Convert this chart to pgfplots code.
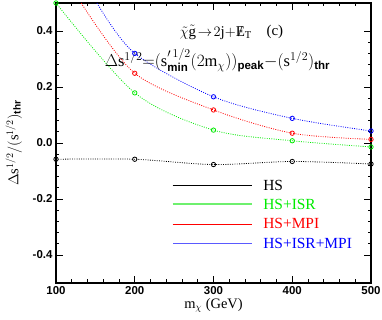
\documentclass[border=0pt]{standalone}
\usepackage{fontspec}
\setmainfont{Liberation Serif}
\setsansfont{Liberation Sans}
\usepackage{amsmath}
\usepackage{pgfplots}
\pgfplotsset{compat=1.18}
\definecolor{cHS}{RGB}{0,0,0}
\definecolor{cISR}{RGB}{0,235,0}
\definecolor{cMPI}{RGB}{255,0,0}
\definecolor{cALL}{RGB}{0,0,255}
\definecolor{legISR}{RGB}{110,240,110}
\definecolor{legALL}{RGB}{90,90,255}
\newcommand{\sub}[1]{\text{\sffamily\bfseries #1}}
\newcommand{\met}{\text{\ooalign{E\cr\hfil/\hfil}}}
\begin{document}
\begin{tikzpicture}
\begin{axis}[
    scale only axis,
    width=315bp, height=280bp,
    xmin=100, xmax=500, ymin=-0.5, ymax=0.5,
    xtick={100,200,300,400,500},
    ytick={-0.4,-0.2,0,0.2,0.4},
    minor x tick num=4, minor y tick num=4,
    tick align=inside,
    major tick length=7bp, minor tick length=3.5bp,
    tick style={black, line width=0.9pt},
    axis line style={line width=1.1pt},
    /pgf/number format/assume math mode=true,
    yticklabel style={/pgf/number format/fixed, /pgf/number format/fixed zerofill,
        /pgf/number format/precision=1, font=\sffamily\bfseries\fontsize{11.5}{13}\selectfont},
    xticklabel style={font=\sffamily\bfseries\fontsize{11.5}{13}\selectfont},
    scaled y ticks=false,
    xlabel={m$_{\chi}$ (GeV)},
    ylabel={$\Delta\mathrm{s}^{1/2}/(\mathrm{s}^{1/2})_{\sub{thr}}$},
    label style={font=\fontsize{14.5}{16}\selectfont},
    xlabel style={yshift=3bp},
    ylabel style={yshift=4bp},
    clip=true,
    every axis plot/.append style={line width=0.8pt},
]
% HS
\addplot[cHS, dash pattern=on 0.9pt off 1.4pt, smooth] coordinates {
 (100,-0.058) (200,-0.058) (300,-0.077) (400,-0.066) (500,-0.075)};
\addplot[cHS, only marks, mark=o, mark size=2.2pt] coordinates {
 (100,-0.058) (200,-0.058) (300,-0.077) (400,-0.066) (500,-0.075)};
% HS+ISR
\addplot[cISR, dash pattern=on 0.9pt off 1.4pt, smooth] coordinates {
 (100,0.50) (200,0.179) (300,0.046) (400,0.008) (500,-0.014)};
\addplot[cISR, only marks, mark=o, mark size=2.2pt] coordinates {
 (100,0.50) (200,0.179) (300,0.046) (400,0.008) (500,-0.014)};
% HS+MPI
\addplot[cMPI, dash pattern=on 0.9pt off 1.4pt, smooth] coordinates {
 (132,0.50) (200,0.249) (300,0.118) (400,0.035) (500,0.013)};
\addplot[cMPI, only marks, mark=o, mark size=2.2pt] coordinates {
 (200,0.249) (300,0.118) (400,0.035) (500,0.013)};
% HS+ISR+MPI
\addplot[cALL, dash pattern=on 0.9pt off 1.4pt, smooth] coordinates {
 (152,0.50) (200,0.320) (300,0.165) (400,0.088) (500,0.043)};
\addplot[cALL, only marks, mark=o, mark size=2.2pt] coordinates {
 (200,0.320) (300,0.165) (400,0.088) (500,0.043)};

% legend samples
\addplot[cHS, no marks] coordinates {(248,-0.150) (349,-0.150)};
\addplot[legISR, no marks, line width=1.4pt] coordinates {(248,-0.218) (349,-0.218)};
\addplot[cMPI, no marks] coordinates {(248,-0.289) (349,-0.289)};
\fill[legALL] (axis cs:248,-0.3555) rectangle (axis cs:349,-0.3605);
\node[text=cHS, anchor=west, inner sep=0pt, font=\fontsize{15.5}{17}\selectfont] at (axis cs:363,-0.150) {HS};
\node[text=cISR, anchor=west, inner sep=0pt, font=\fontsize{15.5}{17}\selectfont] at (axis cs:363,-0.218) {HS+ISR};
\node[text=cMPI, anchor=west, inner sep=0pt, font=\fontsize{15.5}{17}\selectfont] at (axis cs:363,-0.289) {HS+MPI};
\node[text=cALL, anchor=west, inner sep=0pt, font=\fontsize{15.5}{17}\selectfont] at (axis cs:363,-0.360) {HS+ISR+MPI};

% annotations
\node[font=\fontsize{15}{17}\selectfont, inner sep=0pt] at (axis cs:303,0.396)
  {$\tilde{\chi}\tilde{\mathrm{g}}\!\to\!2\mathrm{j}{+}\met_{\mathrm{T}}$};
\node[font=\fontsize{15}{17}\selectfont, inner sep=0pt] at (axis cs:378,0.396) {(c)};
\node[font=\fontsize{16.5}{18}\selectfont, inner sep=0pt] at (axis cs:305,0.296)
  {$\Delta\mathrm{s}^{1/2}{=}(\mathrm{s}'^{\,1/2}_{\sub{min}}(2\mathrm{m}_{\chi}))_{\sub{peak}}{-}(\mathrm{s}^{1/2})_{\sub{thr}}$};
\end{axis}
\pgfresetboundingbox
\path ([shift={(-56bp,-37bp)}]current axis.south west) rectangle ([shift={(11bp,3bp)}]current axis.north east);
\end{tikzpicture}
\end{document}
